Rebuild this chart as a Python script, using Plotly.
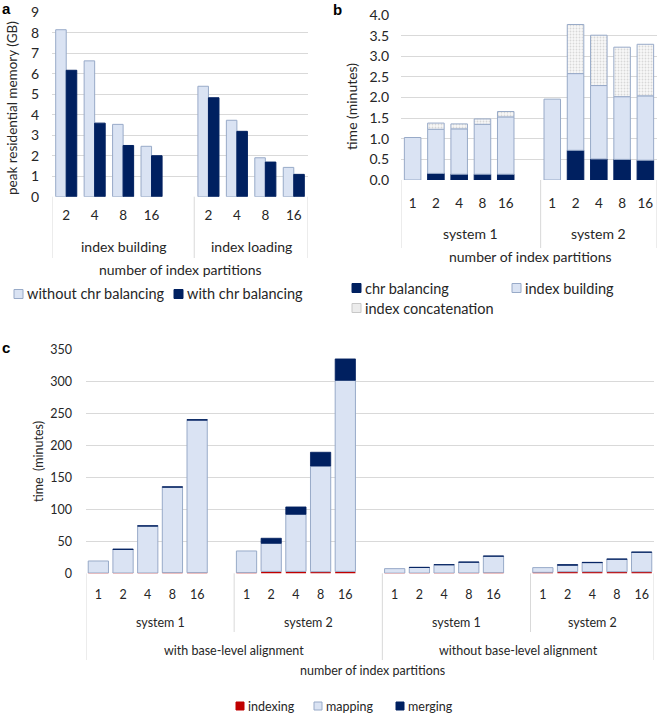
import numpy as np
import plotly.graph_objects as go

W, H = 660, 713
FONT = "Lato"

# ---- panel a: peak memory ----
a_groups = ["index building", "index loading"]
a_parts = ["2", "4", "8", "16"]
a_without = [8.15, 6.63, 3.53, 2.46, 5.39, 3.73, 1.90, 1.43]
a_with = [6.17, 3.59, 2.50, 2.00, 4.83, 3.19, 1.69, 1.09]
a_names = ["without chr balancing", "with chr balancing"]
a_yticks = list(range(0, 10))

# ---- panel b: index time ----
b_groups = ["system 1", "system 2"]
b_parts = ["1", "2", "4", "8", "16"]
b_chr = [None, 0.16, 0.14, 0.14, 0.14, None, 0.72, 0.51, 0.50, 0.48]
b_build = [1.03, 1.07, 1.10, 1.21, 1.39, 1.96, 1.86, 1.78, 1.52, 1.56]
b_concat = [None, 0.15, 0.12, 0.13, 0.13, None, 1.19, 1.22, 1.20, 1.25]
b_names = ["chr balancing", "index building", "index concatenation"]
b_yticks = [0, 0.5, 1.0, 1.5, 2.0, 2.5, 3.0, 3.5, 4.0]

# ---- panel c: mapping time ----
c_outer = ["with base-level alignment", "without base-level alignment"]
c_systems = ["system 1", "system 2", "system 1", "system 2"]
c_parts = ["1", "2", "4", "8", "16"]
c_indexing = [0.5, 0.5, 0.5, 1.0, 1.0,
              1.0, 3.0, 3.0, 2.5, 3.0,
              0.3, 0.4, 0.4, 0.6, 0.8,
              1.5, 2.5, 2.5, 2.5, 2.5]
c_mapping = [18.8, 36.8, 73.4, 133.8, 239.0,
             34.0, 44.0, 89.5, 165.7, 299.5,
             7.0, 8.7, 12.9, 16.7, 25.9,
             7.4, 10.1, 14.2, 19.5, 30.4]
c_merging = [None, 0.8, 0.8, 1.0, 1.0,
             None, 7.9, 11.5, 21.5, 33.5,
             None, 0.3, 0.3, 0.5, 0.5,
             None, 1.0, 0.5, 0.5, 0.5]
c_names = ["indexing", "mapping", "merging"]
c_yticks = list(range(0, 351, 50))

LIGHT = "#dae3f3"
EDGE = "#98aac8"
NAVY = "#002060"
RED = "#c00000"
GRID = "#d9d9d9"
TXT = "#262626"
DOTS = "#ececec"


def py(p):
    # pixel row -> paper coordinate
    return 1 - p / H


def px(p):
    return p / W


def slots(starts, n):
    return [s + i for s in starts for i in range(n)]


def stack_bases(*series):
    out, acc = [], np.zeros(len(series[0]))
    for s in series:
        out.append(acc.copy())
        acc = acc + np.array([v if v is not None else 0 for v in s], dtype=float)
    return out


a_x = slots([0, 5], len(a_parts))
b_x = slots([0, 6], len(b_parts))
c_x = slots([0, 6, 12, 18], len(c_parts))

fig = go.Figure()

# panel a bars (side by side)
fig.add_trace(go.Bar(x=a_x, y=a_without, width=0.37, offset=-0.37,
                     marker=dict(color=LIGHT, line=dict(color=EDGE, width=1)),
                     name=a_names[0], xaxis="x", yaxis="y"))
fig.add_trace(go.Bar(x=a_x, y=a_with, width=0.37, offset=0,
                     marker=dict(color=NAVY, line=dict(color=NAVY, width=1)),
                     name=a_names[1], xaxis="x", yaxis="y"))

# panel b stacked bars
bb = stack_bases(b_chr, b_build, b_concat)
fig.add_trace(go.Bar(x=b_x, y=b_chr, base=bb[0], width=0.71,
                     marker=dict(color=NAVY, line=dict(color=NAVY, width=1)),
                     name=b_names[0], xaxis="x2", yaxis="y2"))
fig.add_trace(go.Bar(x=b_x, y=b_build, base=bb[1], width=0.71,
                     marker=dict(color=LIGHT, line=dict(color=EDGE, width=1)),
                     name=b_names[1], xaxis="x2", yaxis="y2"))
fig.add_trace(go.Bar(x=b_x, y=b_concat, base=bb[2], width=0.71,
                     marker=dict(color="white", line=dict(color=EDGE, width=1),
                                 pattern=dict(shape=".", fgcolor="#b8b8b8",
                                              bgcolor="#f8f8f8", size=3,
                                              solidity=0.3)),
                     name=b_names[2], xaxis="x2", yaxis="y2"))

# panel c stacked bars
cb = stack_bases(c_indexing, c_mapping, c_merging)
fig.add_trace(go.Bar(x=c_x, y=c_indexing, base=cb[0], width=0.82,
                     marker=dict(color=RED, line=dict(color=RED, width=0)),
                     name=c_names[0], xaxis="x3", yaxis="y3"))
fig.add_trace(go.Bar(x=c_x, y=c_mapping, base=cb[1], width=0.82,
                     marker=dict(color=LIGHT, line=dict(color=EDGE, width=1)),
                     name=c_names[1], xaxis="x3", yaxis="y3"))
fig.add_trace(go.Bar(x=c_x, y=c_merging, base=cb[2], width=0.82,
                     marker=dict(color=NAVY, line=dict(color=NAVY, width=0.8)),
                     name=c_names[2], xaxis="x3", yaxis="y3"))

xcommon = dict(showgrid=False, zeroline=False, showline=False, ticks="",
               automargin=False, tickfont=dict(size=13.5, color=TXT))
ycommon = dict(showgrid=True, gridcolor=GRID, gridwidth=1, zeroline=False,
               showline=False, ticks="", automargin=False,
               tickfont=dict(size=14, color=TXT))

fig.update_layout(
    xaxis=dict(xcommon, domain=[px(52), px(308)], range=[-0.5, 8.5],
               tickvals=a_x, ticktext=a_parts * 2, anchor="y",
               ticklabelstandoff=9),
    yaxis=dict(ycommon, domain=[py(196.7), py(12.3)], range=[0, 9],
               tickvals=a_yticks, anchor="x", ticklabelstandoff=12),
    xaxis2=dict(xcommon, domain=[px(401), px(657)], range=[-0.5, 10.5],
                tickvals=b_x, ticktext=b_parts * 2, anchor="y2",
                tickfont=dict(size=13.5, color=TXT), ticklabelstandoff=13),
    yaxis2=dict(ycommon, domain=[py(180), py(15)], range=[0, 4],
                tickvals=b_yticks, tickformat=".1f", anchor="x2",
                ticklabelstandoff=11),
    xaxis3=dict(xcommon, domain=[px(86), px(654)], range=[-0.5, 22.5],
                tickvals=c_x, ticktext=c_parts * 4, anchor="y3",
                tickfont=dict(size=12.5, color=TXT), ticklabelstandoff=12),
    yaxis3=dict(ycommon, domain=[py(573.3), py(350)], range=[0, 350],
                tickvals=c_yticks, anchor="x3", tickfont=dict(size=12.5, color=TXT),
                ticklabelstandoff=13),
)

fig.update_layout(
    width=W, height=H, barmode="overlay",
    margin=dict(l=0, r=0, t=0, b=0, autoexpand=False),
    plot_bgcolor="white", paper_bgcolor="white",
    font=dict(family=FONT, color=TXT, size=14),
    showlegend=False,
)

shapes = []
ann = []


def vline(xref, x, top, bottom):
    shapes.append(dict(type="line", xref=xref, yref="paper", x0=x, x1=x,
                       y0=py(top), y1=py(bottom),
                       line=dict(color=GRID, width=1)))


def label(text, x, y, xref="paper", size=14, xanchor="center", **kw):
    ann.append(dict(text=text, x=x, y=y, xref=xref, yref="paper",
                    showarrow=False, xanchor=xanchor, yanchor="middle",
                    font=dict(size=size, color=TXT), **kw))


def key(name, fill, edge, x, y, size=14, box=9):
    # legend swatch + text, positions in pixels
    shapes.append(dict(type="rect", xref="paper", yref="paper",
                       x0=px(x), x1=px(x + box),
                       y0=py(y + box / 2), y1=py(y - box / 2),
                       fillcolor=fill, line=dict(color=edge, width=1)))
    label(name, px(x + box + 2), py(y), size=size, xanchor="left")


for xv in [-0.5, 4.5, 8.5]:
    vline("x", xv, 196.7, 258)
for xv in [-0.5, 5.5, 10.5]:
    vline("x2", xv, 180, 248)
for xv in [5.5, 17.5]:
    vline("x3", xv, 573.3, 632)
for xv in [-0.5, 11.5, 22.5]:
    vline("x3", xv, 573.3, 660)

# group labels
for g, xc in zip(a_groups, [2, 6.5]):
    label(g, xc, py(247), xref="x", size=14)
for g, xc in zip(b_groups, [2.5, 8]):
    label(g, xc, py(233), xref="x2", size=14)
for g, xc in zip(c_systems, [2.5, 8.5, 14.5, 20]):
    label(g, xc, py(622), xref="x3", size=12.5)
for g, xc in zip(c_outer, [5.5, 17]):
    label(g, xc, py(650), xref="x3", size=12.5)

# axis titles
label("number of index partitions", px(180), py(270), size=14)
label("number of index partitions", px(530), py(256), size=14)
label("number of index partitions", px(372), py(670), size=12.5)
label("peak residential memory (GB)", px(12), py(108), size=13.5, textangle=-90)
label("time (minutes)", px(352), py(107), size=14, textangle=-90)
label("time  (minutes)", px(38), py(462), size=12.5, textangle=-90)

# legends
key(a_names[0], LIGHT, EDGE, 14, 294, size=14.5)
key(a_names[1], NAVY, NAVY, 174, 294, size=14.5)
key(b_names[0], NAVY, NAVY, 352, 288, size=14.5)
key(b_names[1], LIGHT, EDGE, 512, 288, size=14.5)
key(b_names[2], DOTS, "#c8c8c8", 352, 308, size=14.5)
key(c_names[0], RED, RED, 236, 706, size=12.5, box=8)
key(c_names[1], LIGHT, EDGE, 314, 706, size=12.5, box=8)
key(c_names[2], NAVY, NAVY, 396, 706, size=12.5, box=8)

# panel letters
for t, x, y in [("a", 6, 8), ("b", 337, 9), ("c", 6, 347)]:
    ann.append(dict(text="<b>%s</b>" % t, x=px(x), y=py(y), xref="paper",
                    yref="paper", showarrow=False, xanchor="center",
                    yanchor="middle",
                    font=dict(size=15, color="black", family="Liberation Sans")))

fig.update_layout(shapes=shapes, annotations=ann)

# the page's default body margin would shift the figure by 8px
fig.write_html("out.html", config={"displayModeBar": False},
               post_script="document.body.style.margin='0';")
